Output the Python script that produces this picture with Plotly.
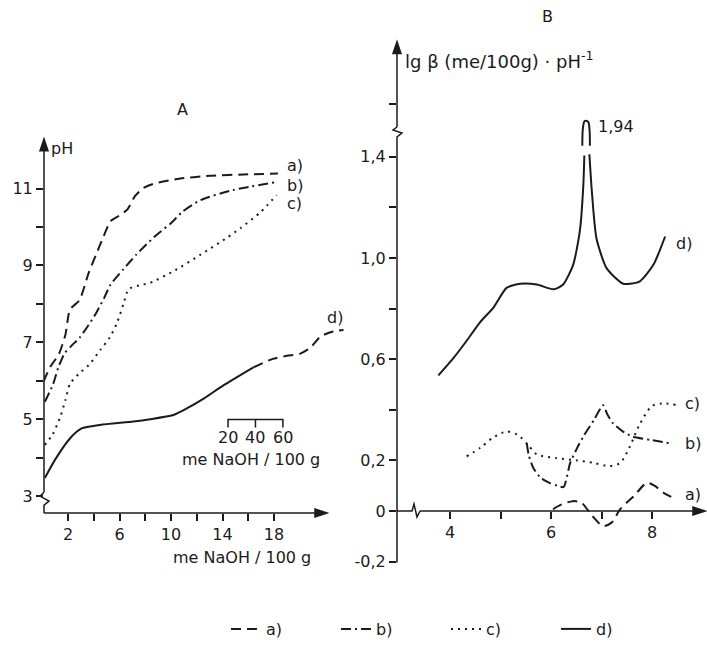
import plotly.graph_objects as go

W, H = 707, 646
def PX(x): return x / W
def PY(y): return 1 - y / H

# ---------------- Panel A: pH vs me NaOH/100 g ----------------
a_x = [0.1, 0.6, 1.3, 1.8, 2.15, 2.9, 3.6, 4.2, 4.7, 5.3, 6.0, 6.6, 7.2, 7.8, 8.6, 10.5, 13.0, 16.0, 18.3]
a_ph = [5.98, 6.35, 6.7, 7.2, 7.85, 8.1, 8.8, 9.3, 9.7, 10.15, 10.3, 10.45, 10.8, 11.0, 11.12, 11.25, 11.33, 11.37, 11.39]
b_x = [0.2, 0.85, 1.25, 1.75, 2.3, 2.9, 3.6, 4.2, 4.8, 5.3, 6.3, 7.3, 8.1, 8.9, 10.0, 10.9, 12.3, 14.8, 18.2]
b_ph = [5.45, 5.92, 6.35, 6.72, 6.92, 7.12, 7.45, 7.77, 8.15, 8.5, 8.9, 9.28, 9.55, 9.8, 10.1, 10.4, 10.7, 10.96, 11.17]
c_x = [0.2, 0.8, 1.4, 1.8, 2.15, 2.9, 3.7, 4.5, 5.25, 5.8, 6.3, 6.7, 7.5, 8.4, 10.2, 12.3, 14.3, 15.4, 17.0, 18.2]
c_ph = [4.33, 4.6, 5.06, 5.5, 5.92, 6.2, 6.44, 6.8, 7.13, 7.5, 7.99, 8.38, 8.48, 8.55, 8.85, 9.28, 9.71, 9.97, 10.4, 10.83]
d_x = [0.2, 1.0, 2.15, 3.06, 4.48, 7.07, 8.37, 10.18, 11.22, 12.6, 14.07, 16.4]
d_ph = [3.47, 3.95, 4.5, 4.76, 4.85, 4.94, 5.0, 5.11, 5.28, 5.55, 5.88, 6.35]
d2_x = [16.4, 17.9, 19.0, 20.0, 20.8, 21.6, 22.6, 23.4]
d2_ph = [6.35, 6.57, 6.65, 6.7, 6.85, 7.15, 7.28, 7.32]

xA_ticks = [2, 6, 10, 14, 18]
xA_minor = [4, 8, 12, 16]
yA_ticks = [3, 5, 7, 9, 11]
yA_minor = [4, 6, 8, 10]
inset_ticks = [20, 40, 60]

# ---------------- Panel B: lg beta vs pH ----------------
aB_ph = [6.04, 6.2, 6.43, 6.6, 6.82, 7.03, 7.2, 7.37, 7.64, 7.9, 8.05, 8.23, 8.49]
aB_v = [0.007, 0.025, 0.039, 0.033, -0.02, -0.059, -0.046, 0.007, 0.059, 0.111, 0.1, 0.072, 0.046]
bB_ph = [5.52, 5.56, 5.65, 5.8, 5.98, 6.12, 6.25, 6.38, 6.52, 6.64, 6.85, 7.03, 7.12, 7.23, 7.42, 7.62, 8.0, 8.34]
bB_v = [0.268, 0.22, 0.17, 0.13, 0.11, 0.1, 0.095, 0.19, 0.25, 0.294, 0.36, 0.418, 0.38, 0.346, 0.315, 0.294, 0.28, 0.268]
cB_ph = [4.33, 4.6, 4.85, 5.12, 5.35, 5.55, 5.72, 6.12, 6.51, 6.85, 7.15, 7.37, 7.55, 7.75, 8.0, 8.2, 8.47]
cB_v = [0.216, 0.25, 0.29, 0.314, 0.3, 0.26, 0.224, 0.209, 0.2, 0.19, 0.178, 0.19, 0.25, 0.34, 0.415, 0.425, 0.42]
dB_ph = [3.77, 4.05, 4.33, 4.59, 4.86, 5.12, 5.39, 5.72, 6.05, 6.24, 6.44, 6.57, 6.64, 6.66,
         None, 6.76, 6.81, 6.9, 7.1, 7.43, 7.76, 8.03, 8.26]
dB_v = [0.536, 0.6, 0.673, 0.745, 0.804, 0.882, 0.898, 0.895, 0.876, 0.895, 0.974, 1.105, 1.287, 1.405,
        None, 1.41, 1.26, 1.078, 0.96, 0.898, 0.908, 0.974, 1.085]
# peak cap drawn above the axis break (axis units as drawn); true value 1.94
dcap_ph = [6.62, 6.63, 6.66, 6.69, 6.74, 6.765, 6.77]
dcap_v = [1.444, 1.51, 1.54, 1.542, 1.537, 1.50, 1.444]

yB_ticks = [-0.2, 0, 0.2, 0.6, 1.0, 1.4]
yB_text = ["-0,2", "0", "0,2", "0,6", "1,0", "1,4"]
yB_minor = [0.4, 0.8, 1.2, 1.61]
xB_ticks = [4, 6, 8]
xB_minor = [5, 7]

INK = "#1b1b1b"
FONT = "DejaVu Sans"
FS = 16
LW = 2
DASH_A = "10px,6px"
DASH_B = "10px,4px,2px,4px"
DASH_C = "2px,5px"

fig = go.Figure()
# Panel A traces
fig.add_trace(go.Scatter(x=a_x, y=a_ph, mode="lines", name="a)", legendgroup="a",
                         line=dict(color=INK, width=LW, dash=DASH_A, shape="spline", smoothing=0.6),
                         xaxis="x", yaxis="y"))
fig.add_trace(go.Scatter(x=b_x, y=b_ph, mode="lines", name="b)", legendgroup="b",
                         line=dict(color=INK, width=LW, dash=DASH_B, shape="spline", smoothing=0.6),
                         xaxis="x", yaxis="y"))
fig.add_trace(go.Scatter(x=c_x, y=c_ph, mode="lines", name="c)", legendgroup="c",
                         line=dict(color=INK, width=LW, dash=DASH_C, shape="spline", smoothing=0.6),
                         xaxis="x", yaxis="y"))
fig.add_trace(go.Scatter(x=d_x, y=d_ph, mode="lines", name="d)", legendgroup="d",
                         line=dict(color=INK, width=LW, shape="spline", smoothing=0.6),
                         xaxis="x", yaxis="y"))
fig.add_trace(go.Scatter(x=d2_x, y=d2_ph, mode="lines", showlegend=False, legendgroup="d",
                         line=dict(color=INK, width=LW, dash=DASH_A, shape="spline", smoothing=0.6),
                         xaxis="x", yaxis="y"))
# Panel B traces
fig.add_trace(go.Scatter(x=aB_ph, y=aB_v, mode="lines", showlegend=False, legendgroup="a",
                         line=dict(color=INK, width=LW, dash=DASH_A, shape="spline", smoothing=0.8),
                         xaxis="x2", yaxis="y2"))
fig.add_trace(go.Scatter(x=bB_ph, y=bB_v, mode="lines", showlegend=False, legendgroup="b",
                         line=dict(color=INK, width=LW, dash=DASH_B, shape="spline", smoothing=0.6),
                         xaxis="x2", yaxis="y2"))
fig.add_trace(go.Scatter(x=cB_ph, y=cB_v, mode="lines", showlegend=False, legendgroup="c",
                         line=dict(color=INK, width=LW, dash=DASH_C, shape="spline", smoothing=0.8),
                         xaxis="x2", yaxis="y2"))
fig.add_trace(go.Scatter(x=dB_ph, y=dB_v, mode="lines", showlegend=False, legendgroup="d",
                         connectgaps=False,
                         line=dict(color=INK, width=LW, shape="spline", smoothing=0.6),
                         xaxis="x2", yaxis="y2"))
fig.add_trace(go.Scatter(x=dcap_ph, y=dcap_v, mode="lines", showlegend=False, legendgroup="d",
                         line=dict(color=INK, width=LW, shape="spline", smoothing=0.8),
                         xaxis="x2", yaxis="y2"))

tickfont = dict(family=FONT, size=FS, color=INK)
common = dict(showgrid=False, zeroline=False, showline=False, ticks="outside",
              ticklen=7, tickwidth=1.5, tickcolor=INK, tickfont=tickfont, automargin=False)

# A mapping: px = 42.25 + 12.875*x ; py = 345 - 38.75*(pH-7)
def ax_inv(p): return (p - 42.25) / 12.875
def ay_inv(p): return 7 - (p - 345) / 38.75
def ax_f(x): return 42.25 + 12.875 * x
def ay_f(v): return 345 - 38.75 * (v - 7)
# B mapping: px = 450 + 50.5*(pH-4) ; py = 515 - 255*v
def bx_inv(p): return 4 + (p - 450) / 50.5
def by_inv(p): return (515 - p) / 255

def minor(vals):
    return dict(tickmode="array", tickvals=vals, ticks="outside", ticklen=7,
                tickwidth=1.5, tickcolor=INK)

fig.update_layout(
    width=W, height=H, autosize=False,
    margin=dict(l=0, r=0, t=0, b=0),
    paper_bgcolor="white", plot_bgcolor="rgba(0,0,0,0)",
    font=dict(family=FONT, size=FS, color=INK),
    xaxis=dict(domain=[PX(44), PX(350)], range=[ax_inv(44), ax_inv(350)], anchor="y",
               tickmode="array", tickvals=xA_ticks, minor=minor(xA_minor), **common),
    yaxis=dict(domain=[PY(517), PY(130)], range=[ay_inv(517), ay_inv(130)], anchor="x",
               tickmode="array", tickvals=yA_ticks, minor=minor(yA_minor), **common),
    xaxis2=dict(domain=[PX(397), 1.0], range=[bx_inv(397), bx_inv(707)], anchor="free",
                position=PY(515), tickmode="array", tickvals=xB_ticks, minor=minor(xB_minor),
                **common),
    yaxis2=dict(domain=[PY(567), PY(35)], range=[by_inv(567), by_inv(35)], anchor="x2",
                tickmode="array", tickvals=yB_ticks, ticktext=yB_text, minor=minor(yB_minor),
                **common),
    legend=dict(orientation="h", x=PX(226), y=PY(634), xanchor="left", yanchor="middle",
                entrywidth=65, entrywidthmode="pixels", bgcolor="rgba(0,0,0,0)",
                font=dict(family=FONT, size=FS, color=INK), tracegroupgap=0),
    showlegend=True,
)

ann = []
shapes = []

def path(points, fill=False, close=False):
    d = "M " + " L ".join(f"{PX(x):.5f},{PY(y):.5f}" for x, y in points)
    if close:
        d += " Z"
    shapes.append(dict(type="path", path=d, xref="paper", yref="paper",
                       line=dict(color=INK, width=1.5),
                       fillcolor=INK if fill else None))

def arrow_right(hx, hy, tx):
    path([(tx, hy), (hx - 10, hy)])
    path([(hx, hy), (hx - 12, hy - 4), (hx - 12, hy + 4)], fill=True, close=True)

def arrow_up(hx, hy, ty):
    path([(hx, ty), (hx, hy + 10)])
    path([(hx, hy), (hx - 4, hy + 12), (hx + 4, hy + 12)], fill=True, close=True)

def text(t, x, y, xanchor="center", size=FS):
    ann.append(dict(text=t, x=PX(x), y=PY(y), xref="paper", yref="paper", showarrow=False,
                    xanchor=xanchor, yanchor="middle", borderpad=0,
                    font=dict(family=FONT, size=size, color=INK)))

# Panel A axes
arrow_right(327, 517, 44)
arrow_up(44, 140, 496)
path([(44, 517), (44, 509), (49, 505), (40, 500), (44, 496)])
# Panel B axes
arrow_right(705, 515, 420)
path([(397, 515), (412, 515), (414, 508), (417, 521), (420, 515)])
arrow_up(397, 42, 128)
path([(397, 567), (397, 138), (402, 134), (393, 131), (397, 128)])

# Inset scale bar in A (positions derived from the A axis mapping)
inset_x = [14.43 + (v - inset_ticks[0]) / 20 * 2.13 for v in inset_ticks]
bar_y = ay_f(4.99)
path([(ax_f(inset_x[0]), bar_y + 8), (ax_f(inset_x[0]), bar_y), (ax_f(inset_x[-1]), bar_y),
      (ax_f(inset_x[-1]), bar_y + 8)])
path([(ax_f(inset_x[1]), bar_y), (ax_f(inset_x[1]), bar_y + 8)])
for v, xx in zip(inset_ticks, inset_x):
    text(str(v), ax_f(xx), bar_y + 18)
text("me NaOH / 100 g", 251, 463)

# Titles / labels
text("A", 182, 110)
text("B", 547, 17)
text("pH", 50, 150, xanchor="left")
text("me NaOH / 100 g", 242, 562)
text("lg β (me/100g) · pH<sup>-1</sup>", 404, 60, xanchor="left", size=18)
text("1,94", 597, 127, xanchor="left")
text("a)", 286, 167, xanchor="left")
text("b)", 286, 187, xanchor="left")
text("c)", 286, 205, xanchor="left")
text("d)", 326, 320, xanchor="left")
text("d)", 675, 245, xanchor="left")
text("c)", 684, 407, xanchor="left")
text("b)", 684, 447, xanchor="left")
text("a)", 684, 498, xanchor="left")

fig.update_layout(annotations=ann, shapes=shapes)
fig.write_html("out.html", config={"displayModeBar": False},
               post_script="document.body.style.margin='0';document.body.style.overflow='hidden';")
